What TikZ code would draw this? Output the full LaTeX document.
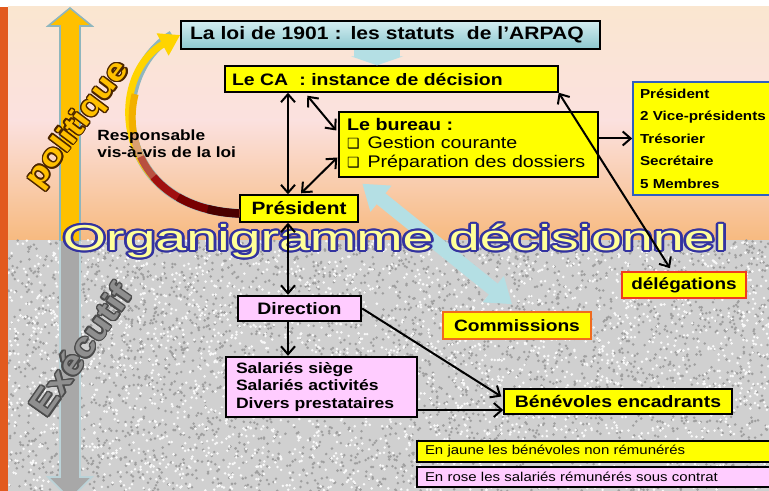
\documentclass[tikz,border=0pt]{standalone}
\usepackage{fontspec}
\setmainfont{Liberation Sans}[FakeStretch=1.17]
\newfontfamily\symbfont{DejaVu Sans}
\usepackage[copies]{contour}
\usepackage{tikz}
\usetikzlibrary{arrows.meta}
\definecolor{peach}{HTML}{FAE6D0}
\definecolor{rosepale}{HTML}{FBE1DF}
\definecolor{orangefond}{HTML}{F7BA80}
\definecolor{grisfond}{HTML}{D0D0D0}
\definecolor{bandeau}{HTML}{E25A1E}
\definecolor{jaunebox}{HTML}{FFFF00}
\definecolor{rosebox}{HTML}{FFCCFF}
\definecolor{bleuclair}{HTML}{B4DFE4}
\definecolor{bleuhaut}{HTML}{D4EEF1}
\definecolor{bleubas}{HTML}{8CC7CF}
\definecolor{bleucontour}{HTML}{8EB6BE}
\definecolor{orfleche}{HTML}{FFC000}
\definecolor{grisfleche}{HTML}{A8A8A8}
\definecolor{grisexec}{HTML}{8F8F8F}
\definecolor{titrefond}{HTML}{FFFF99}
\definecolor{titrebord}{HTML}{3333A0}
\definecolor{bleumembres}{HTML}{2F5FC0}
\definecolor{rougedeleg}{HTML}{F03C1E}
\definecolor{orangecomm}{HTML}{F06A1E}
\definecolor{courbe1}{HTML}{FFD400}
\definecolor{courbe2}{HTML}{F2B000}
\definecolor{courbe3}{HTML}{D9A070}
\definecolor{courbe4}{HTML}{B85040}
\definecolor{courbe5}{HTML}{A01010}
\definecolor{courbe6}{HTML}{780000}
\definecolor{courbe7}{HTML}{4A0000}

\begin{document}
\begin{tikzpicture}[x=0.5pt,y=-0.5pt,>={Straight Barb[length=4pt,width=7pt]}]
\tikzstyle{every node}+=[inner sep=0pt]
\tikzstyle{jaune}=[draw=black,fill=jaunebox,line width=0.7pt]
\tikzstyle{rose}=[draw=black,fill=rosebox,line width=1.2pt]
\tikzstyle{fleche}=[black,line width=1pt]
\tikzstyle{bleue}=[bleuclair,line width=7pt]
\useasboundingbox (0,0) rectangle (769,491);
\clip (0,0) rectangle (769,491);
\fill [white] (0,0) rectangle (769,491);
\shade [top color=peach,bottom color=rosepale] (8,7) rectangle (769,121);
\shade [top color=rosepale,bottom color=orangefond] (8,120) rectangle (769,240);
\fill [grisfond] (8,240) rectangle (769,491);
\pgfmathsetseed{17}
\foreach \i in {1,...,3600} \fill [gray!75] ({8+761*rnd},{240+251*rnd}) circle (0.7pt);
\foreach \i in {1,...,3000} \fill [white!95!gray] ({8+761*rnd},{240+251*rnd}) circle (0.7pt);
\fill [bandeau] (0,7) rectangle (8,491);
\draw [bleucontour,fill=orfleche,line width=0.8pt] (60,241) -- (60,26) -- (48,26) -- (70,8) -- (92,26) -- (80,26) -- (80,241);
\draw [bleucontour!60,fill=grisfleche,line width=0.8pt] (60,241) -- (60,477) -- (48,477) -- (70,499) -- (92,477) -- (80,477) -- (80,241);
\node [rotate=53,font=\bfseries\fontsize{15.4}{16}\selectfont] (politique) at (79,125) {\contourlength{0.7pt}\contour{black!70!orange}{\textcolor{orfleche}{politique}}};
\node [rotate=55,font=\bfseries\fontsize{16.7}{17}\selectfont] (executif) at (81,350) {\contourlength{0.7pt}\contour{black!70}{\textcolor{grisexec}{Exécutif}}};
\node [draw=black,top color=bleuhaut,bottom color=bleubas,line width=0.8pt,inner xsep=4.5pt,text width=200.5pt,minimum height=14pt,align=left,font=\bfseries\fontsize{9}{11}\selectfont] (loi) at (390.5,35) {La loi de 1901 : les statuts\ \ de l’ARPAQ};
\node [jaune,inner xsep=3.5pt,text width=159.5pt,minimum height=13pt,align=left,font=\bfseries\fontsize{8.3}{10}\selectfont] (ca) at (391.5,79) {Le CA\ \ : instance de décision};
\node [jaune,inner xsep=4pt,text width=121.5pt,minimum height=32.5pt,align=left,font=\fontsize{8.4}{9.3}\selectfont] (bureau) at (468.5,144.5) {\textbf{Le bureau :}\\{\symbfont\fontsize{7}{9}\selectfont ❑}\hspace{4pt}Gestion courante\\{\symbfont\fontsize{7}{9}\selectfont ❑}\hspace{4pt}Préparation des dossiers};
\node [jaune,minimum width=59pt,minimum height=13.5pt,font=\bfseries\fontsize{8.9}{10}\selectfont] (pres) at (299,208.5) {Président};
\node [draw=bleumembres,fill=jaunebox,line width=0.8pt,inner xsep=3.5pt,text width=66pt,minimum height=56.5pt,align=left,font=\bfseries\fontsize{6.5}{11.25}\selectfont] (membres) at (706,138.5) {Président\\2 Vice-présidents\\Trésorier\\Secrétaire\\5 Membres};
\node [draw=rougedeleg,fill=jaunebox,line width=0.8pt,minimum width=62pt,minimum height=13pt,font=\bfseries\fontsize{8.1}{10}\selectfont] (deleg) at (684,285) {délégations};
\node [draw=orangecomm,fill=jaunebox,line width=0.8pt,minimum width=74pt,minimum height=13.5pt,font=\bfseries\fontsize{8.2}{10}\selectfont] (comm) at (517,325.5) {Commissions};
\node [jaune,minimum width=114pt,minimum height=12.5pt,font=\bfseries\fontsize{8.3}{10}\selectfont] (bene) at (618,401.5) {Bénévoles encadrants};
\node [rose,minimum width=61.5pt,minimum height=12.5pt,font=\bfseries\fontsize{8.3}{10}\selectfont] (dir) at (299.5,308.5) {Direction};
\node [rose,inner xsep=5pt,text width=85.5pt,minimum height=30pt,align=left,font=\bfseries\fontsize{7.5}{8.75}\selectfont] (sal) at (321.5,387) {Salariés siège\\Salariés activités\\Divers prestataires};
\node [jaune,line width=0.6pt,inner xsep=4pt,text width=171.5pt,minimum height=10.5pt,align=left,font=\fontsize{6.4}{8}\selectfont] (leg1) at (596.5,451.5) {En jaune les bénévoles non rémunérés};
\node [rose,line width=0.6pt,inner xsep=4pt,text width=171.5pt,minimum height=10pt,align=left,font=\fontsize{6.4}{8}\selectfont] (leg2) at (596.5,477) {En rose les salariés rémunérés sous contrat};
\draw [bleuclair,line width=23pt,-{Triangle[width=26pt,length=4.5pt]}] ([xshift=-6.75pt]loi.south) -- ([xshift=-6.75pt]loi.south |- ca.north);
\draw [bleue,{Triangle[width=16pt,length=12pt]}-{Triangle[width=16pt,length=12pt]}] ([shift={(24,6)}]bureau.south west) -- ([shift={(-5,-7)}]comm.north);
\node [font=\fontsize{18}{20}\selectfont] (titre) at (395,242) {\scalebox{1.32}[1]{\contourlength{1pt}\contour{titrebord}{\textcolor{titrefond}{Organigramme décisionnel}}}};
\draw [bleucontour,line width=4.6pt] ([shift={(0,5)}]pres.west) .. controls (112,208) and (106,75) .. ([xshift=-4pt]loi.west);
\draw [courbe1,line width=3.5pt,-{Triangle[width=12pt,length=10pt]}] ([shift={(0,5)}]pres.west) .. controls (112,208) and (106,75) .. (loi.west);
\draw [courbe2,line width=3.5pt,dash pattern=on 92pt off 400pt] ([shift={(0,5)}]pres.west) .. controls (112,208) and (106,75) .. (loi.west);
\draw [courbe3,line width=3.5pt,dash pattern=on 72pt off 400pt] ([shift={(0,5)}]pres.west) .. controls (112,208) and (106,75) .. (loi.west);
\draw [courbe4,line width=3.6pt,dash pattern=on 60pt off 400pt] ([shift={(0,5)}]pres.west) .. controls (112,208) and (106,75) .. (loi.west);
\draw [courbe5,line width=3.8pt,dash pattern=on 48pt off 400pt] ([shift={(0,5)}]pres.west) .. controls (112,208) and (106,75) .. (loi.west);
\draw [courbe6,line width=4pt,dash pattern=on 32pt off 400pt] ([shift={(0,5)}]pres.west) .. controls (112,208) and (106,75) .. (loi.west);
\draw [courbe7,line width=4.2pt,dash pattern=on 16pt off 400pt] ([shift={(0,5)}]pres.west) .. controls (112,208) and (106,75) .. (loi.west);
\node [anchor=west,align=left,font=\bfseries\fontsize{7.4}{8.5}\selectfont] (resp) at (97,144) {Responsable\\vis-à-vis de la loi};
\draw [fleche,<->] ([xshift=-5.5pt]pres.north |- ca.south) -- ([xshift=-5.5pt]pres.north);
\draw [fleche,<->] ([xshift=-5.5pt]pres.south) -- ([xshift=-5.5pt]pres.south |- dir.north);
\draw [fleche,->] ([xshift=-5.5pt]pres.south |- dir.south) -- ([xshift=-5.5pt]pres.south |- sal.north);
\draw [fleche,<->] ([shift={(83,3)}]ca.south west) -- ([shift={(-2,-14)}]bureau.west);
\draw [fleche,<->] ([shift={(-1,13)}]bureau.west) -- ([shift={(2,-1)}]pres.north);
\draw [fleche,->] (bureau.east |- membres.west) -- (membres.west);
\draw [fleche,<->] (ca.south east) -- ([shift={(-14,-3)}]deleg.north);
\draw [fleche,->] (dir.east) -- ([shift={(-2,-5)}]bene.west);
\draw [fleche,->] ([shift={(0,23)}]sal.east) -- ([shift={(0,23)}]sal.east -| bene.west);
\end{tikzpicture}
\end{document}
